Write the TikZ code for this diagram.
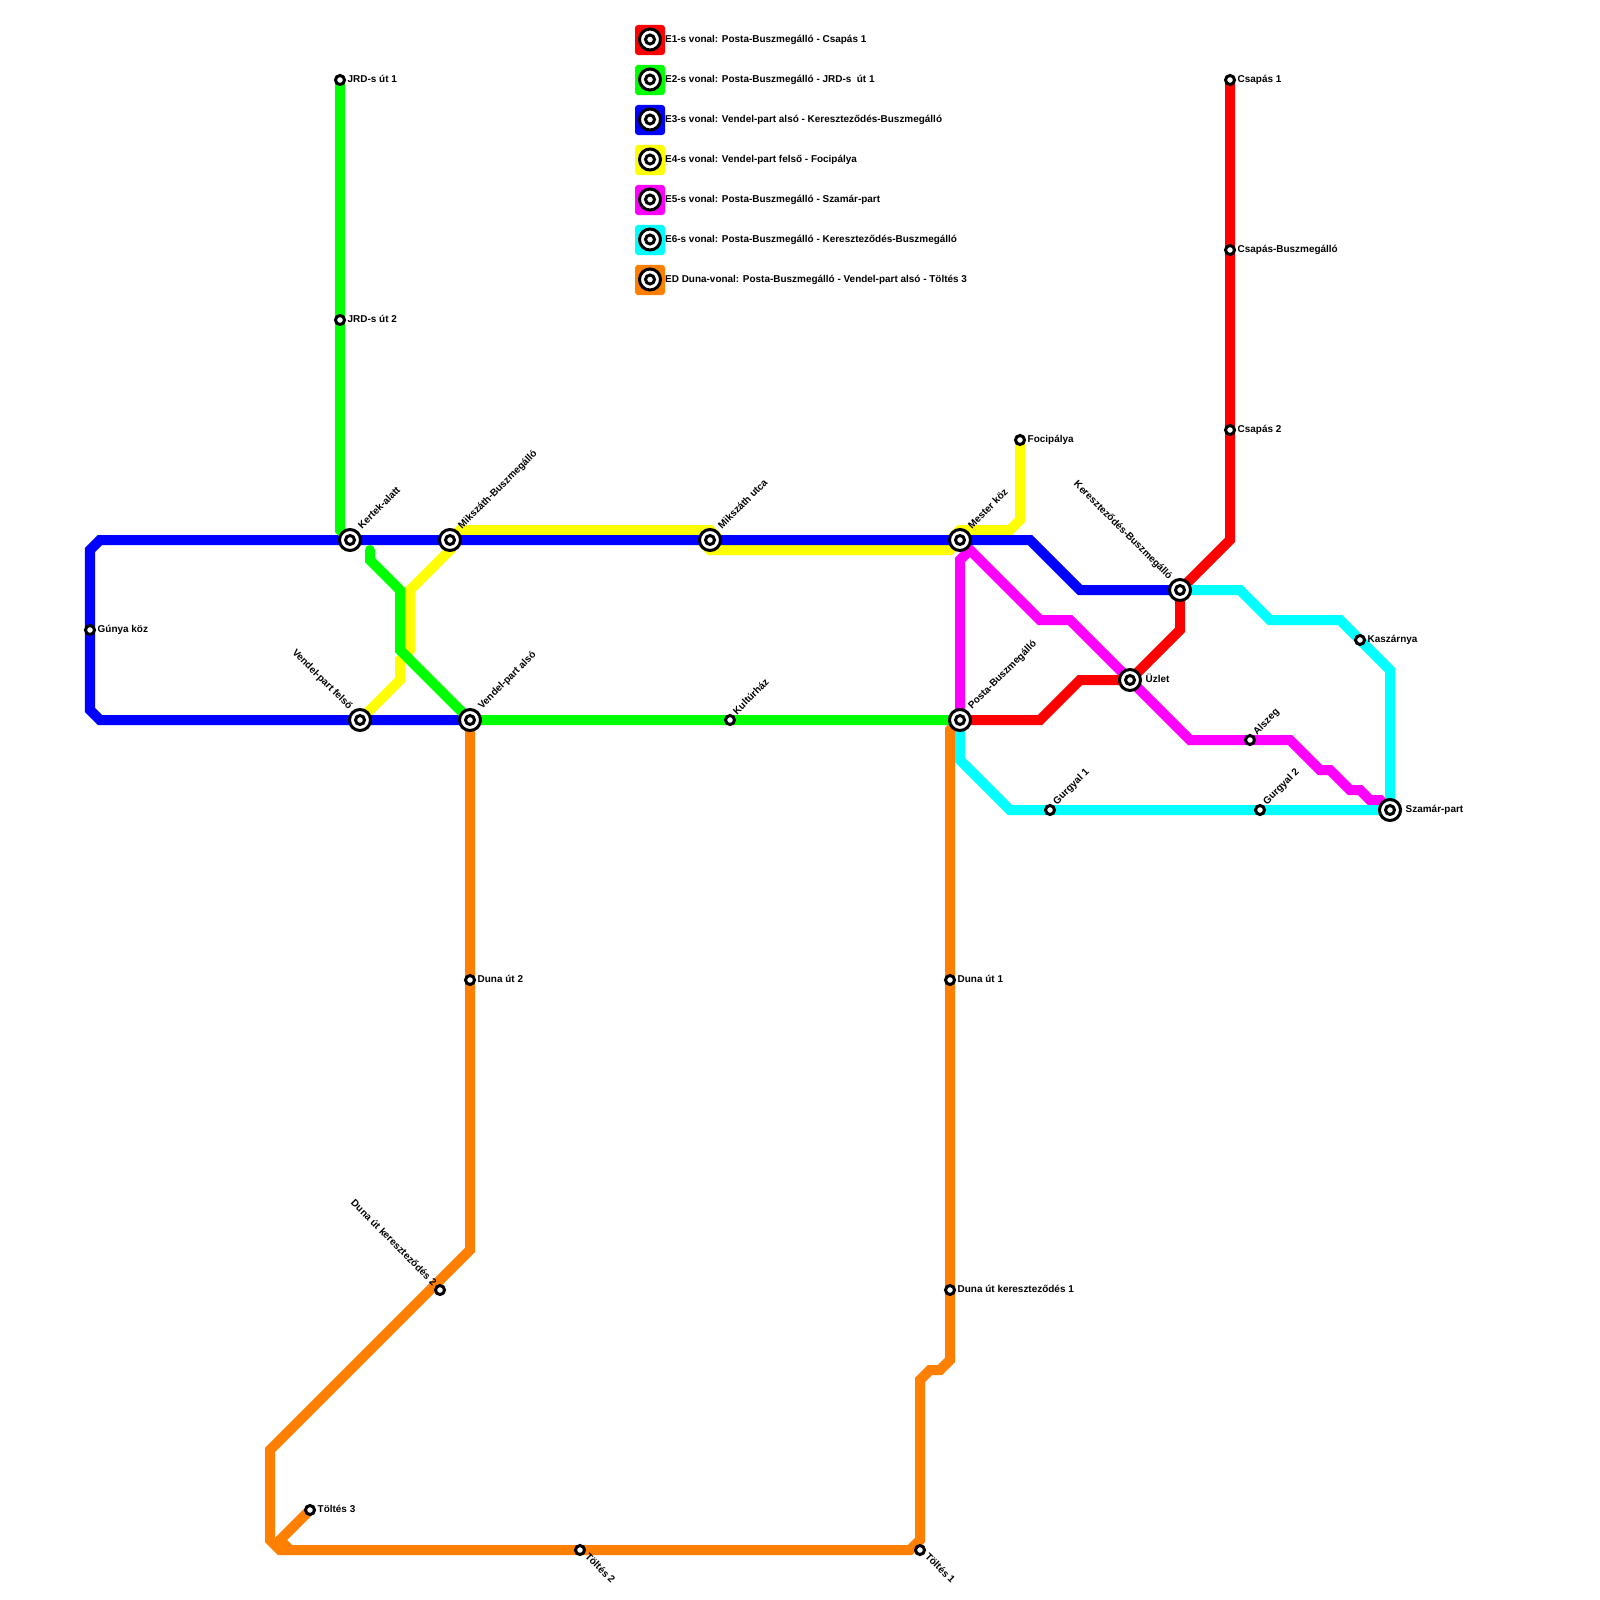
\documentclass[tikz,border=0pt]{standalone}
\usepackage{fontspec}
\setmainfont{Liberation Sans}
\usetikzlibrary{backgrounds}
\definecolor{e1-red}{HTML}{FF0000}
\definecolor{e2-green}{HTML}{00FF00}
\definecolor{e3-blue}{HTML}{0000FF}
\definecolor{e4-yellow}{HTML}{FFFF00}
\definecolor{e5-magenta}{HTML}{FF00FF}
\definecolor{e6-cyan}{HTML}{00FFFF}
\definecolor{ed-orange}{HTML}{FF8000}
\tikzset{
  route/.style={line width=1mm,line cap=round},
  stop/.style={circle,draw=black,fill=white,line width=0.3mm,minimum size=0.9mm,inner sep=0pt},
  hub/.style={stop,minimum size=2.1mm,path picture={\draw[black,line width=0.3mm] (path picture bounding box.center) circle (4.5);}},
  tag/.style={inner sep=0pt,font=\bfseries\fontsize{2.83}{3.4}\selectfont,text=black},
  tagright/.style={tag,xshift=0.7mm,yshift=-0.28mm,anchor=base west},
  tagfar/.style={tag,xshift=1.5mm,yshift=-0.28mm,anchor=base west},
  tagup/.style={tag,xshift=0.65mm,yshift=0.42mm,rotate=45,anchor=base west},
  taghub/.style={tag,xshift=1.15mm,yshift=1mm,rotate=45,anchor=base west},
  tagleft/.style={tag,xshift=-1.1mm,yshift=0.95mm,rotate=-45,anchor=base east},
  tagnear/.style={tag,xshift=-0.7mm,yshift=0.35mm,rotate=-45,anchor=base east},
  tagdown/.style={tag,xshift=0.4mm,yshift=-0.67mm,rotate=-45,anchor=base west},
  keybox/.style={rounded corners=0.3mm,minimum size=3mm,inner sep=0pt},
}
\newcommand{\tikzstop}[6][stop]{%
\node[#1] (#2) at (#3,#4) {};
\node[#5] (#2-tag) at (#2.center) {#6};
}
\begin{document}
\begin{tikzpicture}[x=0.01cm,y=-0.01cm]
\useasboundingbox (0,0) rectangle (1600,1600);
% hubs
\tikzstop[hub]{kertek}{350}{540}{taghub}{Kertek-alatt}
\tikzstop[hub]{mikszathbusz}{450}{540}{taghub}{Mikszáth-Buszmegálló}
\tikzstop[hub]{mikszath}{710}{540}{taghub}{Mikszáth utca}
\tikzstop[hub]{mester}{960}{540}{taghub}{Mester köz}
\tikzstop[hub]{vendelfelso}{360}{720}{tagleft}{Vendel-part felső}
\tikzstop[hub]{vendelalso}{470}{720}{taghub}{Vendel-part alsó}
\tikzstop[hub]{posta}{960}{720}{taghub}{Posta-Buszmegálló}
\tikzstop[hub]{uzlet}{1130}{680}{tagfar}{Üzlet}
\tikzstop[hub]{kereszt}{1180}{590}{tagleft}{Kereszteződés-Buszmegálló}
\tikzstop[hub]{szamar}{1390}{810}{tagfar}{Szamár-part}
% small stops
\tikzstop{jrd1}{340}{80}{tagright}{JRD-s út 1}
\tikzstop{jrd2}{340}{320}{tagright}{JRD-s út 2}
\tikzstop{gunya}{90}{630}{tagright}{Gúnya köz}
\tikzstop{kultur}{730}{720}{tagup}{Kultúrház}
\tikzstop{focipalya}{1020}{440}{tagright}{Focipálya}
\tikzstop{csapas1}{1230}{80}{tagright}{Csapás 1}
\tikzstop{csapasbusz}{1230}{250}{tagright}{Csapás-Buszmegálló}
\tikzstop{csapas2}{1230}{430}{tagright}{Csapás 2}
\tikzstop{kaszarnya}{1360}{640}{tagright}{Kaszárnya}
\tikzstop{alszeg}{1250}{740}{tagup}{Alszeg}
\tikzstop{gurgyal1}{1050}{810}{tagup}{Gurgyal 1}
\tikzstop{gurgyal2}{1260}{810}{tagup}{Gurgyal 2}
\tikzstop{dunaut2}{470}{980}{tagright}{Duna út 2}
\tikzstop{dunaut1}{950}{980}{tagright}{Duna út 1}
\tikzstop{dunaker1}{950}{1290}{tagright}{Duna út kereszteződés 1}
\tikzstop{dunaker2}{440}{1290}{tagnear}{Duna út kereszteződés 2}
\tikzstop{toltes3}{310}{1510}{tagright}{Töltés 3}
\tikzstop{toltes2}{580}{1550}{tagdown}{Töltés 2}
\tikzstop{toltes1}{920}{1550}{tagdown}{Töltés 1}
% lines
\begin{scope}[on background layer]
\draw[route,e4-yellow] (vendelfelso.center) -- (400,680) -- (400,660) -- (410,650) -- (410,590) -- (450,550) -- (mikszathbusz.center) -- (460,530) -- (710,530) -- (715,535) -- (705,545) -- (710,550) -- (950,550) -- (mester.center) -- (955,535) -- (960,530) -- (1010,530) -- (1020,520) -- (focipalya.center);
\draw[route,e5-magenta] (posta.center) -- (960,560) -- (970,550) -- (1040,620) -- (1070,620) -- (uzlet.center) -- (1190,740) -- (alszeg.center) -- (1290,740) -- (1320,770) -- (1330,770) -- (1350,790) -- (1360,790) -- (1370,800) -- (1380,800) -- (szamar.center);
\draw[route,ed-orange] (posta.center) -- (950,730) -- (950,1360) -- (940,1370) -- (930,1370) -- (920,1380) -- (920,1540) -- (910,1550) -- (280,1550) -- (270,1540) -- (270,1450) -- (470,1250) -- (vendelalso.center);
\draw[route,ed-orange] (toltes3.center) -- (280,1540) -- (290,1550);
\draw[route,e1-red] (posta.center) -- (1040,720) -- (1080,680) -- (uzlet.center) -- (1180,630) -- (kereszt.center) -- (1230,540) -- (csapas1.center);
\draw[route,e3-blue] (vendelalso.center) -- (100,720) -- (90,710) -- (90,550) -- (100,540) -- (1030,540) -- (1080,590) -- (kereszt.center);
\draw[route,e2-green] (jrd1.center) -- (340,530) -- (kertek.center);
\draw[route,e2-green] (370,550) -- (370,560) -- (400,590) -- (400,650) -- (vendelalso.center) -- (posta.center);
\draw[route,e6-cyan] (posta.center) -- (960,760) -- (1010,810) -- (szamar.center) -- (1390,670) -- (1340,620) -- (1270,620) -- (1240,590) -- (kereszt.center);
\end{scope}
% legend
\foreach \keyname/\keyy/\keycolor/\keytext in {%
  e1/40/e1-red/E1-s vonal: Posta-Buszmegálló - Csapás 1,
  e2/80/e2-green/E2-s vonal: Posta-Buszmegálló - JRD-s\ \ út 1,
  e3/120/e3-blue/E3-s vonal: Vendel-part alsó - Kereszteződés-Buszmegálló,
  e4/160/e4-yellow/E4-s vonal: Vendel-part felső - Focipálya,
  e5/200/e5-magenta/E5-s vonal: Posta-Buszmegálló - Szamár-part,
  e6/240/e6-cyan/E6-s vonal: Posta-Buszmegálló - Kereszteződés-Buszmegálló,
  ed/280/ed-orange/ED Duna-vonal: Posta-Buszmegálló - Vendel-part alsó - Töltés 3} {
  \node[keybox,fill=\keycolor] (\keyname-box) at (650,\keyy) {};
  \node[hub] (\keyname-hub) at (650,\keyy-0.5) {};
  \node[tag,yshift=-0.28mm,anchor=base west] (\keyname-tag) at (664.5,\keyy-0.7) {\keytext};
}
\end{tikzpicture}
\end{document}
